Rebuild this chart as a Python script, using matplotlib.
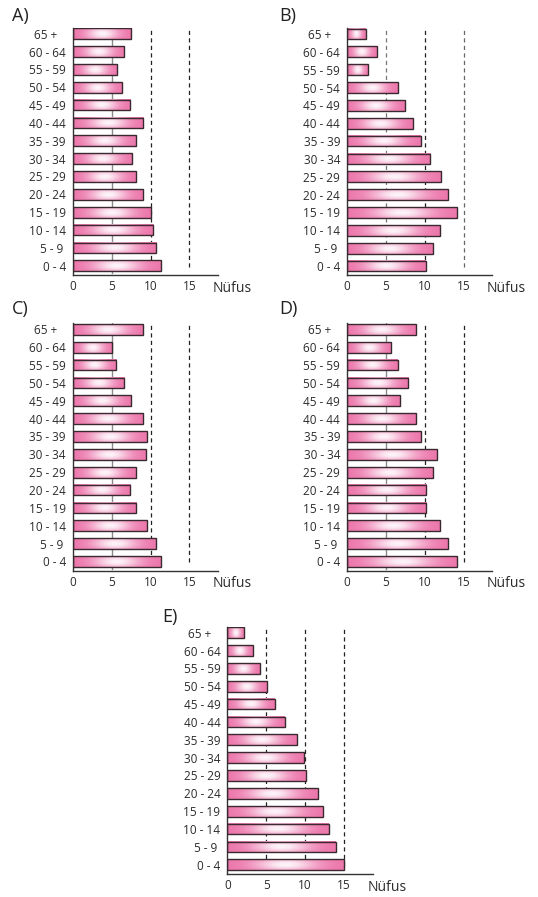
import numpy as np
import matplotlib
matplotlib.use("Agg")
import matplotlib.pyplot as plt

plt.rcParams['font.family'] = ['Open Sans', 'DejaVu Sans']
plt.rcParams['lines.scale_dashes'] = False

# ---------------- data ----------------
age_groups = ["0 - 4", "5 - 9", "10 - 14", "15 - 19", "20 - 24", "25 - 29", "30 - 34",
              "35 - 39", "40 - 44", "45 - 49", "50 - 54", "55 - 59", "60 - 64", "65 +"]
panel_titles = ["A)", "B)", "C)", "D)", "E)"]
values_A = [11.3, 10.7, 10.3, 10.0, 9.0, 8.2, 7.6, 8.2, 9.0, 7.4, 6.3, 5.7, 6.6, 7.5]
values_B = [10.1, 11.0, 11.9, 14.1, 13.0, 12.1, 10.7, 9.5, 8.5, 7.4, 6.5, 2.7, 3.8, 2.4]
values_C = [11.3, 10.7, 9.6, 8.1, 7.4, 8.2, 9.4, 9.6, 9.0, 7.5, 6.6, 5.6, 5.1, 9.0]
values_D = [14.2, 13.0, 11.9, 10.2, 10.2, 11.0, 11.6, 9.5, 8.9, 6.8, 7.9, 6.5, 5.7, 8.9]
values_E = [15.0, 14.0, 13.1, 12.3, 11.6, 10.1, 9.8, 8.9, 7.4, 6.1, 5.1, 4.2, 3.3, 2.2]
x_ticks = [0, 5, 10, 15]
x_label = "Nüfus"

# ---------------- layout ----------------
W, H = 538, 897
fig = plt.figure(figsize=(W / 100, H / 100), dpi=100)

UNIT = 7.78          # pixels per x unit
YLIM = (-0.52, 13.34)
XMAX = 18.7
STEP = 17.85

def axes_rect(x0_px, ybot_px):
    width = XMAX * UNIT
    height = (YLIM[1] - YLIM[0]) * STEP
    return [x0_px / W, 1 - ybot_px / H, width / W, height / H]

panels = [
    (values_A, axes_rect(72.7, 275.0), (12, 7), {5: ('solid', '#8a8a8a')}),
    (values_B, axes_rect(347.0, 275.3), (279, 7), {5: ('dash', '#777777'), 15: ('dash', '#666666')}),
    (values_C, axes_rect(72.7, 570.7), (12, 300), {5: ('solid', '#8a8a8a')}),
    (values_D, axes_rect(347.0, 570.7), (279, 300), {5: ('solid', '#8a8a8a')}),
    (values_E, axes_rect(227.3, 874.0), (162, 608), {}),
]

pink = np.array([236, 116, 170]) / 255.0
white = np.array([253, 244, 249]) / 255.0
nx, ny = 200, 30
u = np.linspace(0, 1, nx)[None, :]
v = np.linspace(-1, 1, ny)[:, None]
w = np.exp(-((u - 0.5) / 0.27) ** 2) * (1 - 0.55 * v ** 2)
grad = pink[None, None, :] * (1 - w[..., None]) + white[None, None, :] * w[..., None]

def label_text(cat):
    pads = {"65 +": "65 +   ", "5 - 9": "5 - 9 "}
    return pads.get(cat, cat)

for (vals, rect, (tx, ty), line_styles), title in zip(panels, panel_titles):
    ax = fig.add_axes(rect)
    ax.set_xlim(0, XMAX)
    ax.set_ylim(*YLIM)
    ypos = np.arange(len(age_groups))

    # reference lines
    for xv in [5, 10, 15]:
        style, col = line_styles.get(xv, ('dash', '#222222'))
        if style == 'solid':
            ax.plot([xv, xv], [-0.4, YLIM[1]], color=col, lw=1.0, zorder=1)
        else:
            ax.plot([xv, xv], [-0.05, YLIM[1]], color=col, lw=0.9, zorder=1,
                    dashes=(3.0, 2.4))

    bars = ax.barh(ypos, vals, height=0.6, facecolor='none',
                   edgecolor='#3a2a30', linewidth=1.0, zorder=3)
    for p in bars.patches:
        x0, y0, bw, bh = p.get_x(), p.get_y(), p.get_width(), p.get_height()
        ax.imshow(grad, extent=[x0, x0 + bw, y0, y0 + bh], aspect='auto',
                  origin='lower', interpolation='bilinear', zorder=2)
    ax.set_xlim(0, XMAX)
    ax.set_ylim(*YLIM)

    ax.set_yticks(ypos)
    ax.set_yticklabels([label_text(c) for c in age_groups])
    ax.set_xticks(x_ticks)
    ax.set_xticklabels([str(t) for t in x_ticks])
    ax.tick_params(axis='both', length=0, labelsize=8.5, colors='#2b2b2b')
    ax.tick_params(axis='y', pad=5)
    ax.tick_params(axis='x', pad=3.5)
    for s in ['top', 'right']:
        ax.spines[s].set_visible(False)
    for s in ['left', 'bottom']:
        ax.spines[s].set_color('#333333')
        ax.spines[s].set_linewidth(1.0)
    ax.patch.set_alpha(0)

    ax.text(18.0, -1.25, x_label, fontsize=10, color='#2b2b2b',
            ha='left', va='center', clip_on=False)

    fig.text(tx / W, 1 - ty / H, title, fontsize=13, color='#222222',
             ha='left', va='top')

fig.savefig("out.png", dpi=100)
